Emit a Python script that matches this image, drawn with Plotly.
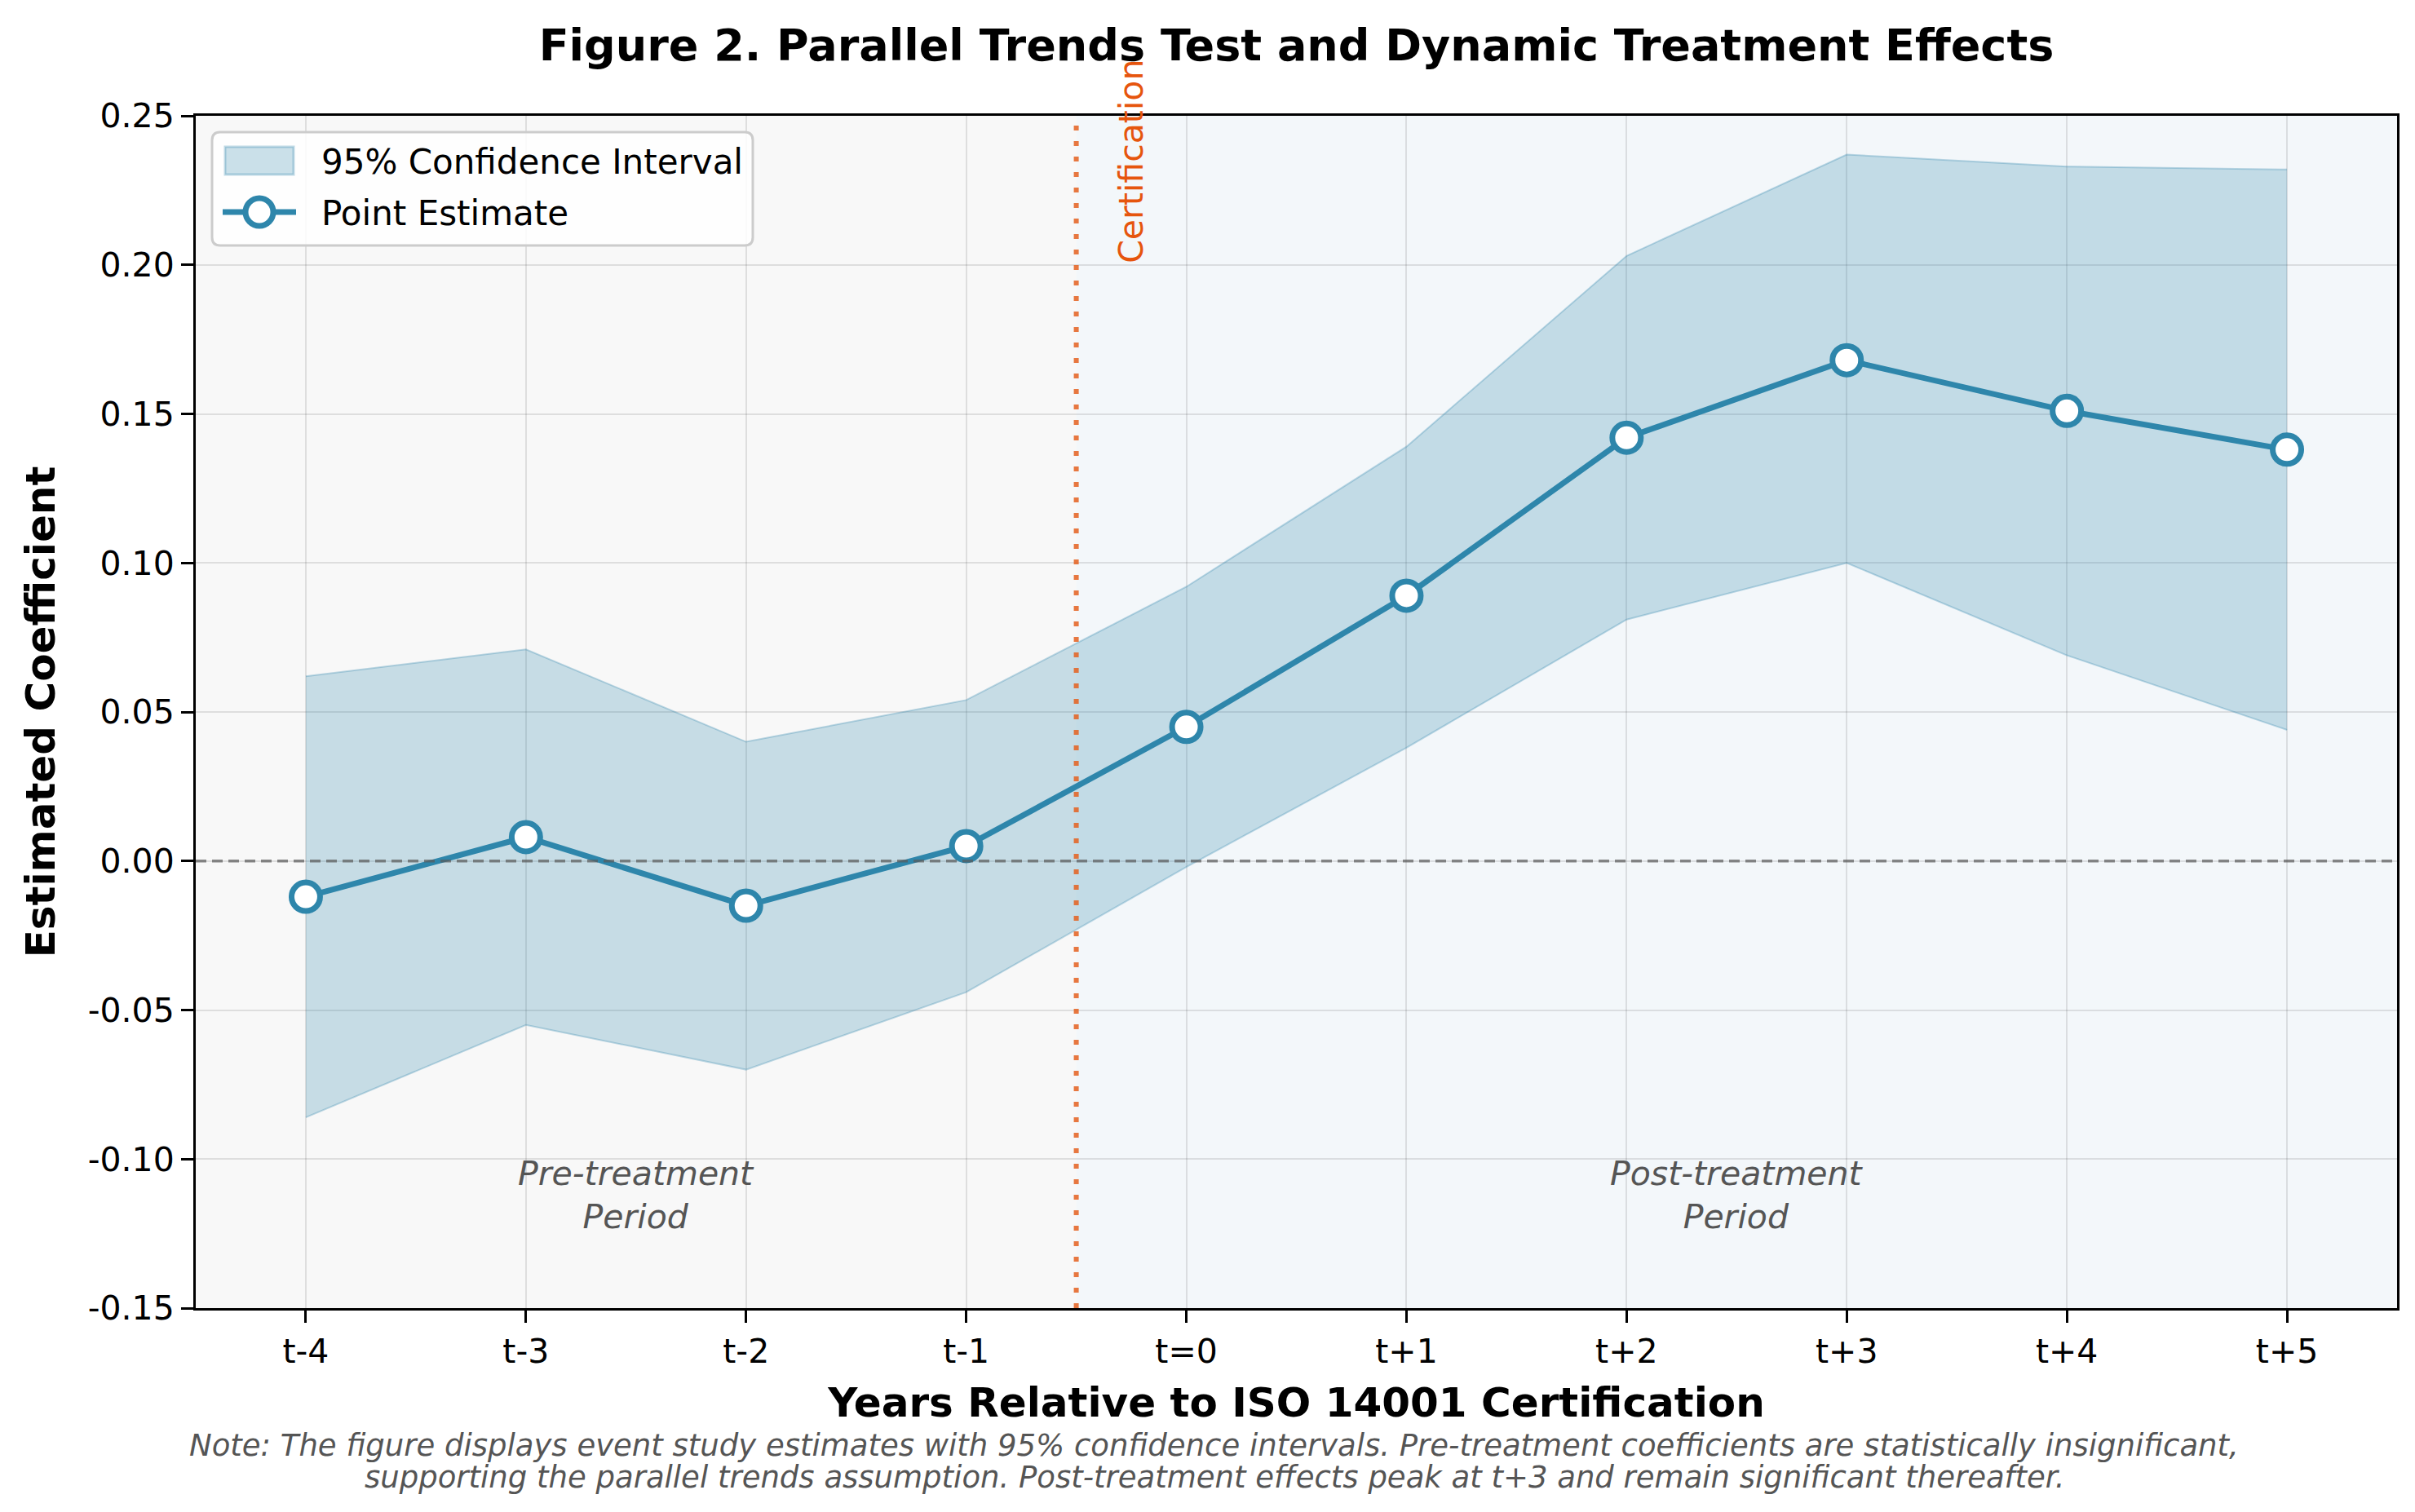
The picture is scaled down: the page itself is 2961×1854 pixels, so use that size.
import plotly.graph_objects as go

# ---- data ----
periods = ["t-4", "t-3", "t-2", "t-1", "t=0", "t+1", "t+2", "t+3", "t+4", "t+5"]
estimates = [-0.012, 0.008, -0.015, 0.005, 0.045, 0.089, 0.142, 0.168, 0.151, 0.138]
ci_upper = [0.062, 0.071, 0.040, 0.054, 0.092, 0.139, 0.203, 0.237, 0.233, 0.232]
ci_lower = [-0.086, -0.055, -0.070, -0.044, -0.002, 0.038, 0.081, 0.100, 0.069, 0.044]
y_tick_vals = [-0.15, -0.10, -0.05, 0.00, 0.05, 0.10, 0.15, 0.20, 0.25]
y_tick_text = ["-0.15", "-0.10", "-0.05", "0.00", "0.05", "0.10", "0.15", "0.20", "0.25"]
treatment_at = 3.5
legend_labels = ["95% Confidence Interval", "Point Estimate"]
note_lines = [
    "Note: The figure displays event study estimates with 95% confidence intervals. "
    "Pre-treatment coefficients are statistically insignificant,",
    "supporting the parallel trends assumption. Post-treatment effects peak at t+3 "
    "and remain significant thereafter.",
]

FONT = "DejaVu Sans"
BLUE = "#2E86AB"
FILL = "rgba(46,134,171,0.25)"
EDGE = "rgba(46,134,171,0.3)"
xi = list(range(len(periods)))

W, H = 2961, 1854
ml, mr, mt, mb = 232, 30, 134, 258
PW = W - ml - mr
PH = H - mt - mb


def px(X):
    return (X - ml) / PW


def py(Y):
    return (H - mb - Y) / PH


fig = go.Figure()

fig.add_trace(go.Scatter(
    x=xi, y=ci_upper, mode="lines", line=dict(color=EDGE, width=2),
    showlegend=False, hoverinfo="skip"))
fig.add_trace(go.Scatter(
    x=xi, y=ci_lower, mode="lines", fill="tonexty", fillcolor=FILL,
    line=dict(color=EDGE, width=2), name=legend_labels[0], showlegend=False))
fig.add_trace(go.Scatter(
    x=xi, y=estimates, mode="lines+markers",
    line=dict(color=BLUE, width=7),
    marker=dict(size=35, color="white", line=dict(color=BLUE, width=7)),
    name=legend_labels[1], showlegend=False))

# legend box (rounded)
lx0, lx1, ly0, ly1, r = 252, 915, 154, 293, 10
rx, ry = r / PW, r / PH
x0, x1, y0, y1 = px(lx0), px(lx1), py(ly1), py(ly0)
legend_path = (f"M{x0+rx},{y0} L{x1-rx},{y0} Q{x1},{y0} {x1},{y0+ry} "
               f"L{x1},{y1-ry} Q{x1},{y1} {x1-rx},{y1} L{x0+rx},{y1} "
               f"Q{x0},{y1} {x0},{y1-ry} L{x0},{y0+ry} Q{x0},{y0} {x0+rx},{y0} Z")

mk_r = 17
shapes = [
    dict(type="rect", xref="x", yref="paper", x0=treatment_at, x1=9.5, y0=0, y1=1,
         fillcolor="#f3f7fa", line=dict(width=0), layer="below"),
    dict(type="line", xref="paper", yref="y", x0=0, x1=1, y0=0, y1=0,
         line=dict(color="rgba(90,90,90,0.7)", width=3.5, dash="13px,7px"), layer="above"),
    dict(type="line", xref="x", yref="paper", x0=treatment_at, x1=treatment_at, y0=0, y1=1,
         line=dict(color="rgba(228,96,30,0.85)", width=6, dash="6px,13px"), layer="above"),
    # legend
    dict(type="path", xref="paper", yref="paper", path=legend_path,
         fillcolor="rgba(255,255,255,0.85)", line=dict(color="#cccccc", width=3), layer="above"),
    dict(type="rect", xref="paper", yref="paper", x0=px(268), x1=px(352), y0=py(206), y1=py(172),
         fillcolor=FILL, line=dict(color=EDGE, width=3), layer="above"),
    dict(type="line", xref="paper", yref="paper", x0=px(265), x1=px(355), y0=py(252), y1=py(252),
         line=dict(color=BLUE, width=7), layer="above"),
    dict(type="circle", xref="paper", yref="paper", x0=px(310 - mk_r), x1=px(310 + mk_r),
         y0=py(252 + mk_r), y1=py(252 - mk_r),
         fillcolor="white", line=dict(color=BLUE, width=7), layer="above"),
]

annotations = [
    dict(x=treatment_at + 0.25, y=0.20, xref="x", yref="y", text="Certification",
         textangle=-90, showarrow=False, xanchor="center", yanchor="bottom",
         font=dict(family=FONT, size=41, color="#E6550D")),
    dict(x=1.5, y=-0.112, xref="x", yref="y", text="<i>Pre-treatment<br>Period</i>",
         showarrow=False, xanchor="center", yanchor="middle",
         font=dict(family=FONT, size=41, color="#555555")),
    dict(x=6.5, y=-0.112, xref="x", yref="y", text="<i>Post-treatment<br>Period</i>",
         showarrow=False, xanchor="center", yanchor="middle",
         font=dict(family=FONT, size=41, color="#555555")),
    dict(x=px(384), y=py(190), xref="paper", yref="paper", text=legend_labels[0],
         showarrow=False, xanchor="left", yanchor="middle",
         font=dict(family=FONT, size=42, color="black")),
    dict(x=px(384), y=py(253), xref="paper", yref="paper", text=legend_labels[1],
         showarrow=False, xanchor="left", yanchor="middle",
         font=dict(family=FONT, size=42, color="black")),
]
for k, line in enumerate(note_lines):
    annotations.append(dict(
        x=px(W / 2), y=py(1764 + 40 * k), xref="paper", yref="paper",
        text=f"<i>{line}</i>", showarrow=False, xanchor="center", yanchor="middle",
        font=dict(family=FONT, size=37, color="#555555")))

fig.update_layout(
    width=W, height=H,
    margin=dict(l=ml, r=mr, t=mt, b=mb),
    paper_bgcolor="white", plot_bgcolor="#f8f8f8",
    font=dict(family=FONT, size=41, color="black"),
    title=dict(text="<b>Figure 2. Parallel Trends Test and Dynamic Treatment Effects</b>",
               x=(ml + PW / 2) / W, xanchor="center", y=1 - 47 / H, yanchor="middle",
               font=dict(family=FONT, size=54, color="black")),
    shapes=shapes, annotations=annotations,
    showlegend=False,
)

fig.update_xaxes(
    range=[-0.5, 9.5], tickmode="array", tickvals=xi, ticktext=periods,
    showline=True, linecolor="black", linewidth=3, mirror=True,
    ticks="outside", ticklen=15, tickwidth=3, tickcolor="black",
    showgrid=True, gridcolor="rgba(0,0,0,0.1)", gridwidth=2, zeroline=False,
    tickfont=dict(family=FONT, size=41),
    title=dict(text="<b>Years Relative to ISO 14001 Certification</b>",
               font=dict(family=FONT, size=50), standoff=22),
)
fig.update_yaxes(
    range=[-0.15, 0.25], tickmode="array", tickvals=y_tick_vals, ticktext=y_tick_text,
    showline=True, linecolor="black", linewidth=3, mirror=True,
    ticks="outside", ticklen=15, tickwidth=3, tickcolor="black",
    showgrid=True, gridcolor="rgba(0,0,0,0.1)", gridwidth=2, zeroline=False,
    tickfont=dict(family=FONT, size=41),
    title=dict(text="<b>Estimated Coefficient</b>",
               font=dict(family=FONT, size=50), standoff=25),
)

fig.write_html("out.html")
